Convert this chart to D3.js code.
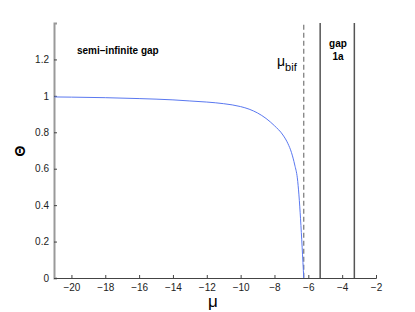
<!DOCTYPE html>
<html>
<head>
<meta charset="utf-8">
<script src="https://cdn.jsdelivr.net/npm/d3@7"></script>
<style>
  body { margin: 0; background: #fff; }
  text { font-family: "Liberation Sans", Arial, sans-serif; }
</style>
</head>
<body>
<div id="container"></div>
<script>
/* DATA */
const mu = [-21, -20, -18, -16, -14, -13, -12, -11, -10, -9.5, -9, -8.5, -8, -7.5, -7.2, -7, -6.8, -6.65, -6.27]
const theta = [0.994, 0.993, 0.99, 0.985, 0.978, 0.972, 0.966, 0.957, 0.941, 0.927, 0.906, 0.876, 0.836, 0.785, 0.737, 0.69, 0.62, 0.55, 0]
const xTicks = [-20, -18, -16, -14, -12, -10, -8, -6, -4, -2]
const yTicks = [0, 0.2, 0.4, 0.6, 0.8, 1, 1.2]
const muBif = -6.27
const gapEdges = [-5.3, -3.28]

/* CONSTANTS */
const width = 415,
  height = 312,
  margin = { top: 23, bottom: 34, left: 54, right: 39 }

const svg = d3.select("#container")
  .append("svg")
  .attr("width", width)
  .attr("height", height)

const xScale = d3.scaleLinear()
  .domain([-21.03, -2])
  .range([margin.left, width - margin.right])

const yScale = d3.scaleLinear()
  .domain([0, 1.4])
  .range([height - margin.bottom, margin.top])

const fmt = d => d < 0 ? "\u2212" + Math.abs(d) : d3.format("~g")(d)

// x axis
svg.append("g")
  .attr("transform", `translate(0,${height - margin.bottom})`)
  .call(d3.axisBottom(xScale).tickValues(xTicks).tickSize(-3).tickPadding(6).tickFormat(fmt))
  .call(g => g.select(".domain").attr("stroke", "#444"))
  .call(g => g.selectAll(".tick line").attr("stroke", "#444"))
  .call(g => g.selectAll("text").attr("font-size", 10).attr("fill", "#222"))

// y axis
svg.append("g")
  .attr("transform", `translate(${margin.left},0)`)
  .call(d3.axisLeft(yScale).tickValues(yTicks).tickSize(-3).tickPadding(5).tickFormat(fmt))
  .call(g => g.select(".domain").attr("stroke", "#999").attr("stroke-width", 2))
  .call(g => g.selectAll(".tick line").attr("stroke", "#444"))
  .call(g => g.selectAll("text").attr("font-size", 10).attr("fill", "#222"))

// gap edges
svg.selectAll("line.gap")
  .data(gapEdges)
  .join("line")
  .attr("class", "gap")
  .attr("x1", d => xScale(d)).attr("x2", d => xScale(d))
  .attr("y1", yScale(1.4)).attr("y2", yScale(0))
  .attr("stroke", "#555")
  .attr("stroke-width", 1.5)

// bifurcation line
svg.append("line")
  .attr("x1", xScale(muBif)).attr("x2", xScale(muBif))
  .attr("y1", yScale(1.39)).attr("y2", yScale(0))
  .attr("stroke", "#777")
  .attr("stroke-width", 1.2)
  .attr("stroke-dasharray", "5,3")

// curve
const line = d3.line()
  .x((d, i) => xScale(mu[i]))
  .y(d => yScale(d))
  .curve(d3.curveMonotoneX)

svg.append("path")
  .datum(theta)
  .attr("d", line)
  .attr("fill", "none")
  .attr("stroke", "#5a78f0")
  .attr("stroke-width", 1)

// labels
svg.append("text")
  .attr("x", 77).attr("y", 54)
  .attr("font-size", 10).attr("font-weight", "bold")
  .text("semi\u2013infinite gap")

svg.append("text")
  .attr("x", 338).attr("y", 47)
  .attr("text-anchor", "middle")
  .attr("font-size", 10).attr("font-weight", "bold")
  .text("gap")
svg.append("text")
  .attr("x", 338).attr("y", 60)
  .attr("text-anchor", "middle")
  .attr("font-size", 10).attr("font-weight", "bold")
  .text("1a")

const bif = svg.append("text")
  .attr("x", 277).attr("y", 66)
  .attr("font-size", 14)
bif.append("tspan").text("\u03bc")
bif.append("tspan").attr("font-size", 11).attr("dy", 5).text("bif")

svg.append("text")
  .attr("x", 213).attr("y", 307)
  .attr("text-anchor", "middle")
  .attr("font-size", 17)
  .text("\u03bc")

svg.append("text")
  .attr("transform", "translate(25,151) rotate(-90)")
  .attr("text-anchor", "middle")
  .attr("font-size", 14).attr("font-weight", "bold")
  .text("\u0398")
</script>
</body>
</html>
